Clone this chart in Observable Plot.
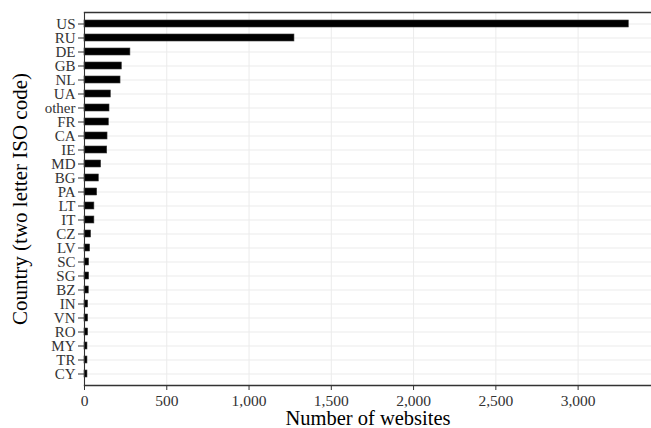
<!DOCTYPE html>
<html>
<head>
<meta charset="utf-8">
<script src="https://cdn.jsdelivr.net/npm/d3@7"></script>
<script src="https://cdn.jsdelivr.net/npm/@observablehq/plot@0.6"></script>
<style>
  html, body { margin: 0; padding: 0; background: #fff; }
</style>
</head>
<body>
<div id="chart"></div>
<script>
const countries = ["US","RU","DE","GB","NL","UA","other","FR","CA","IE","MD","BG","PA","LT","IT","CZ","LV","SC","SG","BZ","IN","VN","RO","MY","TR","CY"];
const websites = [3308,1276,279,227,219,160,152,148,140,138,101,87,77,60,60,40,34,28,28,26,22,22,22,18,18,18];
const xTicks = [0,500,1000,1500,2000,2500,3000];
const xTitle = "Number of websites";
const yTitle = "Country (two letter ISO code)";

const data = countries.map((c, i) => ({country: c, count: websites[i]}));

const chart = Plot.plot({
  width: 651,
  height: 428,
  marginLeft: 84,
  marginRight: 0,
  marginTop: 12,
  marginBottom: 43,
  style: {fontFamily: "'Liberation Serif', serif", background: "#fff"},
  x: {domain: [0, 3446]},
  y: {domain: countries, paddingInner: 0.52, paddingOuter: 0.28},
  marks: [
    Plot.gridX(xTicks, {stroke: "#ebebeb", strokeOpacity: 1, strokeWidth: 1}),
    Plot.gridY({stroke: "#ebebeb", strokeOpacity: 1, strokeWidth: 1}),
    Plot.barX(data, {x: "count", y: "country", fill: "#000", stroke: "#3a3a3a", strokeWidth: 0.6}),
    Plot.frame({anchor: "top", stroke: "#333", strokeWidth: 1.3}),
    Plot.frame({anchor: "bottom", stroke: "#333", strokeWidth: 1.3}),
    Plot.frame({anchor: "left", stroke: "#333", strokeWidth: 1.1}),
    Plot.axisY({tickSize: 6, tickPadding: 3, fontSize: 15, fill: "#333", stroke: "#333", label: null}),
    Plot.axisX({ticks: xTicks, tickFormat: d3.format(","), tickSize: 5, tickPadding: 4, fontSize: 15.5, fill: "#333", stroke: "#333", label: null}),
    Plot.text([xTitle], {frameAnchor: "bottom", dy: 33, lineAnchor: "middle", textAnchor: "middle", fontSize: 20.5, fill: "#000"}),
    Plot.text([yTitle], {frameAnchor: "left", dx: -64, rotate: -90, textAnchor: "middle", lineAnchor: "middle", fontSize: 21, fill: "#000"})
  ]
});
document.getElementById("chart").appendChild(chart);
</script>
</body>
</html>
